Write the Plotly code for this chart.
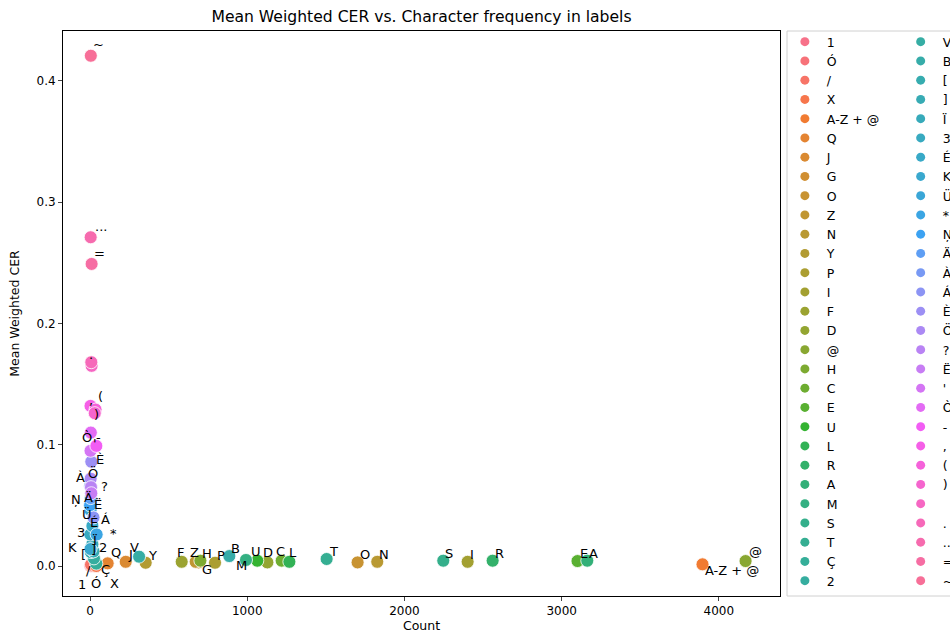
import math
import plotly.graph_objects as go

# Characters (hue order), their frequency in labels and mean weighted CER
chars = ["1", "Ó", "/", "X", "A-Z + @", "Q", "J", "G", "O", "Z", "N", "Y", "P", "I", "F",
         "D", "@", "H", "C", "E", "U", "L", "R", "A", "M", "S", "T", "Ç", "2",
         "V", "B", "[", "]", "Ï", "3", "É", "K", "Ü", "*", "Ņ", "Ä", "À", "Á", "È",
         "Ö", "?", "Ë", "'", "Ò", "-", ",", "(", ")", " ", ".", "...", "=", "~"]
counts = [2, 12, 6, 40, 3896, 112, 227, 690, 1702, 672, 1827, 354, 795, 2402, 583,
          1128, 4170, 702, 1219, 3101, 1064, 1268, 2561, 3163, 992, 2247, 1505, 40, 25,
          312, 886, 5, 22, 15, 2, 15, 3, 3, 42, 0, 4, 1, 22, 8,
          4, 6, 8, 3, 5, 40, 3, 35, 30, 10, 8, 4, 10, 5]
mean_cer = [0.0003, 0.0002, 0.0012, 0.0, 0.0014, 0.0022, 0.0035, 0.0030, 0.0030, 0.0035,
            0.0035, 0.0027, 0.0027, 0.0035, 0.0035, 0.0030, 0.0041, 0.0044, 0.0044, 0.0041,
            0.0044, 0.0035, 0.0044, 0.0044, 0.0050, 0.0044, 0.0058, 0.0020, 0.0063,
            0.0077, 0.0082, 0.0115, 0.0120, 0.0180, 0.0260, 0.0330, 0.0140, 0.0460, 0.0260,
            0.0500, 0.0560, 0.0660, 0.0400, 0.0860, 0.0720, 0.0650, 0.0600, 0.0950, 0.1100,
            0.0990, 0.1320, 0.1290, 0.1260, 0.1650, 0.1680, 0.2710, 0.2490, 0.4206]

x_ticks = [0, 1000, 2000, 3000, 4000]
y_ticks = [0.0, 0.1, 0.2, 0.3, 0.4]

# Pixel nudges (dx, dy) for crowded labels; dy is measured downwards
label_nudge = {
    "1": (-13, 24), "Ó": (-2, 23), "/": (-6, 11), "X": (13, 23), "A-Z + @": (1, 12),
    "Q": (2, -5), "G": (2, 13), "Z": (-7, -4), "F": (-6, -4), "D": (-5, -4),
    "@": (2, -4), "C": (-7, -4), "U": (-7, -4), "L": (-1, -4), "M": (-11, 11),
    "Ç": (4, 11), "2": (4, -5), "V": (-10, -4), "[": (-11, 8), "]": (-4, 4),
    "Ï": (0, 2), "3": (-14, 4), "É": (-3, 2), "K": (-24, 4), "Ü": (-10, 10),
    "*": (12, 5), "Ņ": (-20, 0), "Ä": (-8, 5), "À": (-15, -3), "Á": (6, 7),
    "È": (4, 3), "Ö": (-4, 0), "?": (9, 5), "Ë": (2, 17), "Ò": (-10, 10),
    "-": (-1, -3), ",": (-3, 0), "(": (1, -8), ")": (-2, 7), ".": (-3, -2),
    "...": (3, -5), "=": (1, -5), "~": (1, -6),
}
default_nudge = (1, -2)

# ---- HUSL palette (same maths as seaborn's husl_palette) ----
_M = [[3.2406, -1.5372, -0.4986],
      [-0.9689, 1.8758, 0.0415],
      [0.0557, -0.2040, 1.0570]]
_REF_U, _REF_V = 0.19784, 0.46834


def _max_chroma(L, H):
    hrad = math.radians(H)
    sinH, cosH = math.sin(hrad), math.cos(hrad)
    sub1 = (L + 16) ** 3 / 1560896.0
    sub2 = sub1 if sub1 > 0.008856 else L / 903.3
    result = float("inf")
    for m1, m2, m3 in _M:
        top = (0.99915 * m1 + 1.05122 * m2 + 1.14460 * m3) * sub2
        rbottom = 0.86330 * m3 - 0.17266 * m2
        lbottom = 0.12949 * m3 - 0.38848 * m1
        bottom = (rbottom * sinH + lbottom * cosH) * sub2
        for t in (0.0, 1.0):
            C = L * (top - 1.05122 * t) / (bottom + 0.17266 * sinH * t)
            if 0.0 < C < result:
                result = C
    return result


def _husl_to_rgb(H, S, L):
    C = _max_chroma(L, H) / 100.0 * S
    hrad = math.radians(H)
    U, V = math.cos(hrad) * C, math.sin(hrad) * C
    t = (L + 16.0) / 116.0
    varY = t ** 3 if t ** 3 > 0.008856 else (116.0 * t - 16.0) / 903.3
    varU = U / (13.0 * L) + _REF_U
    varV = V / (13.0 * L) + _REF_V
    Y = varY
    X = -(9.0 * Y * varU) / ((varU - 4.0) * varV - varU * varV)
    Z = (9.0 * Y - 15.0 * varV * Y - varV * X) / (3.0 * varV)
    out = []
    for row in _M:
        c = row[0] * X + row[1] * Y + row[2] * Z
        c = 12.92 * c if c <= 0.0031308 else 1.055 * c ** (1 / 2.4) - 0.055
        out.append(min(max(c, 0.0), 1.0))
    return "rgb({},{},{})".format(*[round(v * 255) for v in out])


def husl_palette(n, h=0.01, s=0.9, l=0.65):
    hues = [((i / n) + h) % 1 * 359 for i in range(n)]
    return [_husl_to_rgb(hh, s * 99, l * 99) for hh in hues]


colors = husl_palette(len(chars))

FONT = "DejaVu Sans"
fig = go.Figure()

# Data points, one trace per character
for ch, cnt, cer, col in zip(chars, counts, mean_cer, colors):
    fig.add_trace(go.Scatter(
        x=[cnt], y=[cer], mode="markers", name=ch, showlegend=False,
        marker=dict(size=13, color=col, line=dict(color="white", width=0.8)),
    ))

# Legend entries split over two columns
half = (len(chars) + 1) // 2
for i, (ch, col) in enumerate(zip(chars, colors)):
    fig.add_trace(go.Scatter(
        x=[None], y=[None], mode="markers", name=ch,
        legend="legend" if i < half else "legend2",
        marker=dict(size=9, color=col),
    ))

# Text labels next to each point
annotations = []
for ch, cnt, cer in zip(chars, counts, mean_cer):
    if not ch.strip():
        continue
    dx, dy = label_nudge.get(ch, default_nudge)
    annotations.append(dict(
        x=cnt, y=cer, xref="x", yref="y", text=ch, showarrow=False,
        xanchor="left", yanchor="bottom", xshift=dx - 1, yshift=-(dy + 4),
        font=dict(family=FONT, size=13, color="black"),
    ))

legend_style = dict(
    font=dict(family=FONT, size=12.5, color="black"),
    bgcolor="rgba(0,0,0,0)", borderwidth=0,
    yanchor="top", y=1.007, xanchor="left", tracegroupgap=0,
    itemsizing="trace", itemwidth=34, maxheight=620,
)

fig.update_layout(
    width=950, height=634,
    margin=dict(l=63, r=170, t=31, b=38, autoexpand=False),
    paper_bgcolor="white", plot_bgcolor="white",
    font=dict(family=FONT, size=12, color="black"),
    title=dict(text="Mean Weighted CER vs. Character frequency in labels",
               x=0.5, xref="paper", y=1 - 17 / 634, yref="container",
               xanchor="center", yanchor="middle",
               font=dict(family=FONT, size=15.6, color="black")),
    annotations=annotations,
    legend=dict(x=1.004, **legend_style),
    legend2=dict(x=1.1655, **legend_style),
    shapes=[dict(type="rect", xref="paper", yref="paper",
                 x0=(787 - 63) / 717, x1=1.35, y0=0.0, y1=1.0,
                 line=dict(color="#d0d0d0", width=1), fillcolor="rgba(0,0,0,0)")],
    xaxis=dict(range=[-172, 4389], tickvals=x_ticks, ticks="outside", ticklen=4,
               showline=True, mirror=True, linecolor="black", linewidth=1,
               showgrid=False, zeroline=False,
               tickfont=dict(family=FONT, size=12, color="black"),
               title=dict(text="Count", standoff=3,
                          font=dict(family=FONT, size=12.5, color="black"))),
    yaxis=dict(range=[-0.0247, 0.441], tickvals=y_ticks, tickformat=".1f",
               ticks="outside", ticklen=4,
               showline=True, mirror=True, linecolor="black", linewidth=1,
               showgrid=False, zeroline=False,
               tickfont=dict(family=FONT, size=12, color="black"),
               title=dict(text="Mean Weighted CER", standoff=14,
                          font=dict(family=FONT, size=12.5, color="black"))),
)

fig.write_html("out.html")
